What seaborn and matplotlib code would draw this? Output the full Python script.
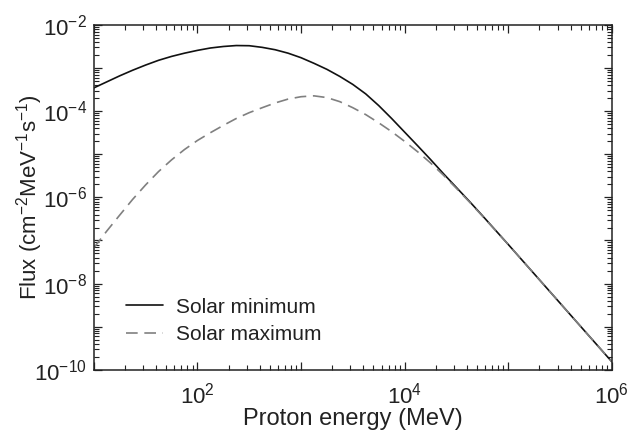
# -*- coding: utf-8 -*-
import numpy as np
import pandas as pd
import matplotlib
matplotlib.use("Agg")
import matplotlib.pyplot as plt
import matplotlib.ticker as mticker
import seaborn as sns

# values (log10 of energy in MeV, log10 of flux)
log_energy = [1.0, 1.125, 1.25, 1.375, 1.5, 1.625, 1.75, 1.875, 2.0, 2.125, 2.25, 2.375,
              2.5, 2.625, 2.75, 2.875, 3.0, 3.125, 3.25, 3.375, 3.5, 3.625, 3.75, 3.875,
              4.0, 4.125, 4.25, 4.375, 4.5, 4.625, 4.75, 4.875, 5.0, 5.5, 6.0]
log_flux_min = [-3.46, -3.32, -3.18, -3.05, -2.93, -2.82, -2.73, -2.655, -2.59, -2.535,
                -2.50, -2.478, -2.482, -2.52, -2.575, -2.655, -2.76, -2.89, -3.03, -3.195,
                -3.38, -3.60, -3.87, -4.17, -4.485, -4.80, -5.12, -5.45, -5.77, -6.09,
                -6.42, -6.755, -7.09, -8.45, -9.81]
log_flux_max = [-7.17, -6.78, -6.41, -6.045, -5.71, -5.40, -5.13, -4.89, -4.68, -4.50,
                -4.33, -4.17, -4.035, -3.92, -3.81, -3.72, -3.665, -3.645, -3.685, -3.78,
                -3.92, -4.08, -4.27, -4.475, -4.70, -4.94, -5.20, -5.485, -5.79, -6.105,
                -6.43, -6.76, -7.09, -8.45, -9.81]
series_names = ["Solar minimum", "Solar maximum"]


def main():

        sns.set_theme(style="ticks")
        plt.rcParams["font.family"] = ["Liberation Sans", "DejaVu Sans"]
        plt.rcParams["mathtext.fontset"] = "custom"
        plt.rcParams["mathtext.rm"] = "Liberation Sans"
        plt.rcParams["mathtext.default"] = "regular"
        plt.rcParams["text.color"] = "#222222"
        plt.rcParams["axes.labelcolor"] = "#222222"
        plt.rcParams["xtick.color"] = "#222222"
        plt.rcParams["ytick.color"] = "#222222"

        energy = 10 ** np.array(log_energy)
        df = pd.concat([
                pd.DataFrame({"energy": energy, "flux": 10 ** np.array(log_flux_min), "series": series_names[0]}),
                pd.DataFrame({"energy": energy, "flux": 10 ** np.array(log_flux_max), "series": series_names[1]}),
        ])

        fig, ax = plt.subplots(figsize=(6.3, 4.3), dpi=100)
        fig.subplots_adjust(left=0.149, right=0.971, top=0.942, bottom=0.140)

        sns.lineplot(data=df, x="energy", y="flux", hue="series", style="series",
                     palette={series_names[0]: "#111111", series_names[1]: "#808080"},
                     dashes={series_names[0]: "", series_names[1]: (7, 4)},
                     linewidth=1.2, sort=False, ax=ax)

        ax.set_xscale("log")
        ax.set_yscale("log")
        ax.set_xlim(10, 1e6)
        ax.set_ylim(1e-10, 1e-2)

        def even_only(v, pos):
                e = int(round(np.log10(v)))
                return "$10^{%d}$" % e if e % 2 == 0 else ""

        for axis in (ax.xaxis, ax.yaxis):
                axis.set_major_locator(mticker.LogLocator(base=10, numticks=100))
                axis.set_minor_locator(mticker.LogLocator(base=10, subs=np.arange(2, 10), numticks=100))
                axis.set_major_formatter(mticker.FuncFormatter(even_only))
                axis.set_minor_formatter(mticker.NullFormatter())

        ax.tick_params(which="both", direction="in", top=True, right=True, labelsize=16)
        ax.tick_params(which="major", length=6, width=0.9, pad=5)
        ax.tick_params(axis="x", which="major", pad=9)
        ax.tick_params(which="minor", length=3.5, width=0.8)
        for s in ax.spines.values():
                s.set_linewidth(1.1)
                s.set_color("#222222")

        ax.set_xlabel("Proton energy (MeV)", fontsize=17, labelpad=0)
        ax.set_ylabel("Flux (cm$^{-2}$MeV$^{-1}$s$^{-1}$)", fontsize=16, labelpad=-8)

        handles, labels = ax.get_legend_handles_labels()
        ax.legend(handles, labels, frameon=False, fontsize=15, loc="center left",
                  bbox_to_anchor=(0.045, 0.142), borderaxespad=0, handlelength=1.8,
                  handletextpad=0.6, labelspacing=0.4)

        fig.savefig("out.png", dpi=100)


if __name__ == "__main__":
        main()
